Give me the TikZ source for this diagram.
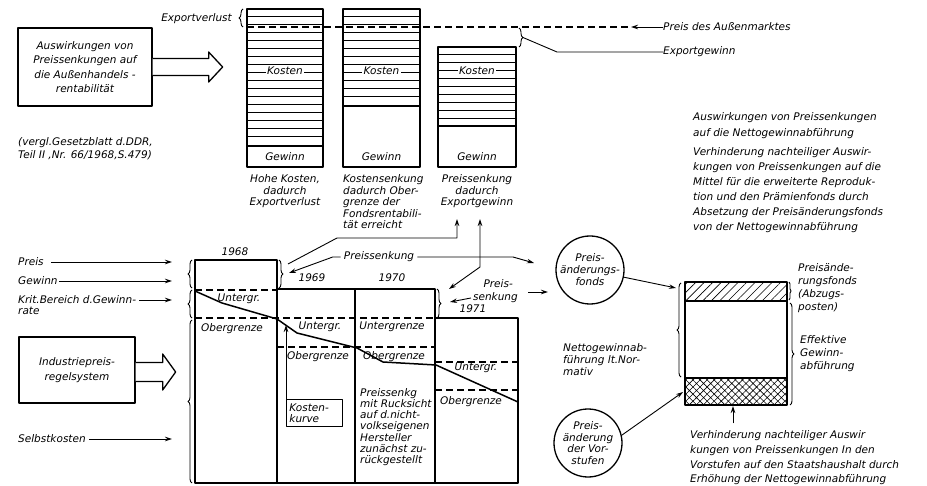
\documentclass[tikz,border=0pt]{standalone}
\usepackage{fontspec}
\setmainfont{DejaVu Sans}
\usetikzlibrary{arrows.meta,decorations.pathreplacing,patterns.meta}

\newcommand\schrift[1]{\fontsize{10.5}{#1}\selectfont\itshape}

\tikzset{
  >={Stealth[length=7pt,width=4.5pt]},
  txt/.style={font={\schrift{#1}}, inner sep=0pt},
  txt/.default=14.5,
  saeule/.style={draw, line width=1.8pt},
  kasten/.style={draw, line width=1.3pt},
  grenze/.style={dash pattern=on 7pt off 4pt, line width=1.1pt},
  klammer/.style={decorate, decoration={brace, amplitude=#1}, line width=0.9pt},
  klammer/.default=4pt,
  pfeil/.style={->, line width=0.9pt},
  hohl/.style={draw, line width=1.3pt, fill=white},
  schraffur/.style={line width=0.55pt},
}

\begin{document}
\begin{tikzpicture}[x=1pt, y=-1pt, line join=round]
  \useasboundingbox (0,0) rectangle (927,486);

  % Aussenhandelsrentabilitaet
  \node[kasten, txt, minimum width=134pt, minimum height=78pt, align=center] (ausw) at (85,67)
    {Auswirkungen von\\Preissenkungen auf\\die Außenhandels -\\rentabilität};
  \draw[hohl] (ausw.east) ++(0,-8.5) -- ++(56,0) -- ++(0,-6.5) -- ++(14,15)
    -- ++(-14,15) -- ++(0,-6.5) -- ++(-56,0);
  \node[txt=13, anchor=north west, align=left] (quelle) at (18,137.5)
    {(vergl.Gesetzblatt d.DDR,\\Teil II ,Nr. 66/1968,S.479)};

  % Kostenbalken
  \foreach \n/\l/\r/\t/\m in {b1/247/323/9/146, b2/343/420/9/106, b3/438/516/47/126} {
    \pgfmathsetmacro\ya{\t+7}
    \pgfmathsetmacro\yb{\t+15}
    \pgfmathsetmacro\ye{\m-3}
    \foreach \y in {\ya,\yb,...,\ye}
      \draw[schraffur] (\l,\y) -- (\r,\y);
    \draw[saeule] (\l,\t) rectangle (\r,167);
    \draw[saeule] (\l,\m) -- (\r,\m);
    \node[txt, fill=white, inner sep=1.5pt] (\n-k) at ({(\l+\r)/2},71) {Kosten};
    \node[txt] (\n-g) at ({(\l+\r)/2},157) {Gewinn};
  }
  \node[txt=11.5, anchor=north, align=center] (b1t) at (285,174.5)
    {Hohe Kosten,\\dadurch\\Exportverlust};
  \node[txt=11.5, anchor=north west, align=left] (b2t) at (343,174.5)
    {Kostensenkung\\dadurch Ober-\\grenze der\\Fondsrentabili-\\tät erreicht};
  \node[txt=11.5, anchor=north, align=center] (b3t) at (477,174.5)
    {Preissenkung\\dadurch\\Exportgewinn};

  % Preis des Aussenmarktes
  \node[txt, anchor=east] (ev) at (232,19) {Exportverlust};
  \draw[klammer] (243,27) -- (243,9);
  \coordinate (pl) at (247,27);
  \coordinate (pr) at (631,27);
  \draw[grenze] (pl) -- (pr);
  \node[txt, anchor=west] (pam) at (663,27) {Preis des Außenmarktes};
  \draw[pfeil] (pam.west) -- (pr);
  \draw[klammer] (519,28) -- (519,47);
  \node[txt, anchor=west] (eg) at (663,52) {Exportgewinn};
  \coordinate (egk) at (523,37.5);
  \draw[line width=0.9pt] (egk) -- (557,52) -- (eg.west);

  % Nettogewinnabfuehrung
  \node[txt=16, anchor=north west, align=left] (nga) at (693,112.5)
    {Auswirkungen von Preissenkungen\\auf die Nettogewinnabführung};
  \node[txt=15, anchor=north west, align=left] (ngv) at (693,147)
    {Verhinderung nachteiliger Auswir-\\kungen von Preissenkungen auf die\\Mittel für die erweiterte Reproduk-\\tion und den Prämienfonds durch\\Absetzung der Preisänderungsfonds\\von der Nettogewinnabführung};

  % Industriepreisregelsystem
  \node[txt, anchor=west] (preis) at (18,262) {Preis};
  \node[txt, anchor=west] (gew) at (18,281) {Gewinn};
  \node[txt, anchor=west] (krit) at (18,300) {Krit.Bereich d.Gewinn-};
  \node[txt, anchor=west] (krit2) at (18,311) {rate};
  \node[txt, anchor=west] (sk) at (18,439) {Selbstkosten};
  \draw[pfeil] ([xshift=7pt]preis.east) -- (172,262);
  \draw[pfeil] ([xshift=1pt]gew.east) -- (172,281);
  \draw[pfeil] ([xshift=3pt]krit.east) -- (172,300);
  \draw[pfeil] ([xshift=3pt]sk.east) -- (172,439);
  \node[kasten, txt, minimum width=116pt, minimum height=66pt, align=center] (ipr) at (77,370)
    {Industriepreis-\\regelsystem};
  \draw[hohl] ([yshift=-2pt]ipr.east) ++(0,-9.5) -- ++(27,0) -- ++(0,-8.5) -- ++(13,18)
    -- ++(-13,18) -- ++(0,-8.5) -- ++(-27,0);

  \draw[klammer] (192,288) -- (192,260);
  \draw[klammer] (192,318) -- (192,290);
  \draw[klammer] (192,483) -- (192,320);

  % Saeulen 1968 bis 1971
  \foreach \l/\r/\t in {195/277/260, 277/355/289, 355/435/289, 435/518/318}
    \draw[saeule] (\l,\t) rectangle (\r,483);
  \draw[grenze] (195,290) -- (277,290);
  \draw[grenze] (195,318) -- (435,318);
  \draw[grenze] (277,347) -- (435,347);
  \draw[grenze] (435,362) -- (518,362);
  \draw[grenze] (435,390) -- (518,390);

  \node[txt] (j68) at (235,252) {1968};
  \node[txt] (j69) at (312,278) {1969};
  \node[txt] (j70) at (392,278) {1970};
  \node[txt] (j71) at (473,309) {1971};

  \node[txt] (u68) at (239,299) {Untergr.};
  \node[txt] (o68) at (232,329) {Obergrenze};
  \node[txt] (u69) at (320,327) {Untergr.};
  \node[txt] (o69) at (318,357) {Obergrenze};
  \node[txt] (u70) at (392,327) {Untergrenze};
  \node[txt] (o70) at (394,357) {Obergrenze};
  \node[txt] (u71) at (476,368) {Untergr.};
  \node[txt] (o71) at (471,402) {Obergrenze};
  \node[txt=11.1, anchor=north west, align=left] (pr70) at (360,388.5)
    {Preissenkg\\mit Rucksicht\\auf d.nicht-\\volkseigenen\\Hersteller\\zunächst zu-\\rückgestellt};

  % Kostenkurve
  \draw[line width=1.5pt] (195,291) -- (222,303) -- (277,319) -- (297,333) -- (357,348)
    -- (383,362) -- (436,365) -- (518,402);
  \node[kasten, line width=0.9pt, txt=11, anchor=north west, align=left, text width=50pt,
    inner sep=3pt, minimum height=27pt] (kk) at (286,399) {Kosten-\\kurve};
  \draw[pfeil] (kk.north west) -- (286,325);

  % Preissenkung
  \draw[klammer] (279,260) -- (279,288);
  \draw[klammer] (437,289) -- (437,318);
  \node[txt] (ps) at (379,257) {Preissenkung};
  \coordinate (k68) at (289,273);
  \coordinate (k68o) at (288,264);
  \coordinate (pfa) at (534,263);
  \draw[pfeil] ([xshift=-3pt]ps.west) -- ++(-8,0) -- (k68);
  \draw[pfeil] ([xshift=3pt]ps.east) -- (513,257) -- (pfa);
  \draw[pfeil] (k68o) -- (337,238) -- (457,238) -- (457,219);
  \draw[pfeil, <->] (449,289) -- (480,267) -- (480,219);
  \node[txt, anchor=east] (ps71a) at (513,284) {Preis-};
  \node[txt, anchor=east] (ps71b) at (518,298) {senkung};
  \draw[pfeil] ([xshift=-2pt]ps71b.west) -- (450,302);
  \coordinate (pfb) at (548,292);
  \draw[pfeil] (528,292) -- (pfb);

  % Preisaenderungsfonds
  \node[draw, circle, line width=1.3pt, minimum size=68pt, txt=12, align=center] (paf) at (590,270)
    {Preis-\\änderungs-\\fonds};
  \node[draw, circle, line width=1.3pt, minimum size=68pt, txt=11.8, align=center] (pav) at (588,443)
    {Preis-\\änderung\\der Vor-\\stufen};
  \node[txt=12, anchor=north west, align=left] (ngn) at (563,343.5)
    {Nettogewinnab-\\führung lt.Nor-\\mativ};

  \fill[pattern={Lines[angle=45,distance=6pt,line width=0.6pt]}] (685,282) rectangle (787,301);
  \fill[pattern={Hatch[angle=45,distance=5pt,line width=0.6pt]}] (685,378) rectangle (787,405);
  \draw[saeule] (685,282) rectangle (787,405);
  \draw[saeule] (685,301) -- (787,301);
  \draw[saeule] (685,378) -- (787,378);
  \coordinate (pafz) at (676,288);
  \coordinate (pavz) at (683,392);
  \draw[pfeil] (paf.-12) -- (pafz);
  \draw[pfeil] (pav.13) -- (pavz);

  \draw[klammer] (681,377) -- (681,283);
  \draw[klammer=2pt] (789,282) -- (789,300);
  \draw[klammer] (790,303) -- (790,405);
  \node[txt=13, anchor=north west, align=left] (paft) at (798,263.5)
    {Preisände-\\rungsfonds\\(Abzugs-\\posten)};
  \node[txt=13, anchor=north west, align=left] (egf) at (800,335.5)
    {Effektive\\Gewinn-\\abführung};

  \node[txt=14.7, anchor=north west, align=left] (vv) at (690,430.5)
    {Verhinderung nachteiliger Auswir\\kungen von Preissenkungen In den\\Vorstufen auf den Staatshaushalt durch\\Erhöhung der Nettogewinnabführung};
  \draw[pfeil] ([shift={(43,-7)}]vv.north west) -- (733,406);
\end{tikzpicture}
\end{document}
